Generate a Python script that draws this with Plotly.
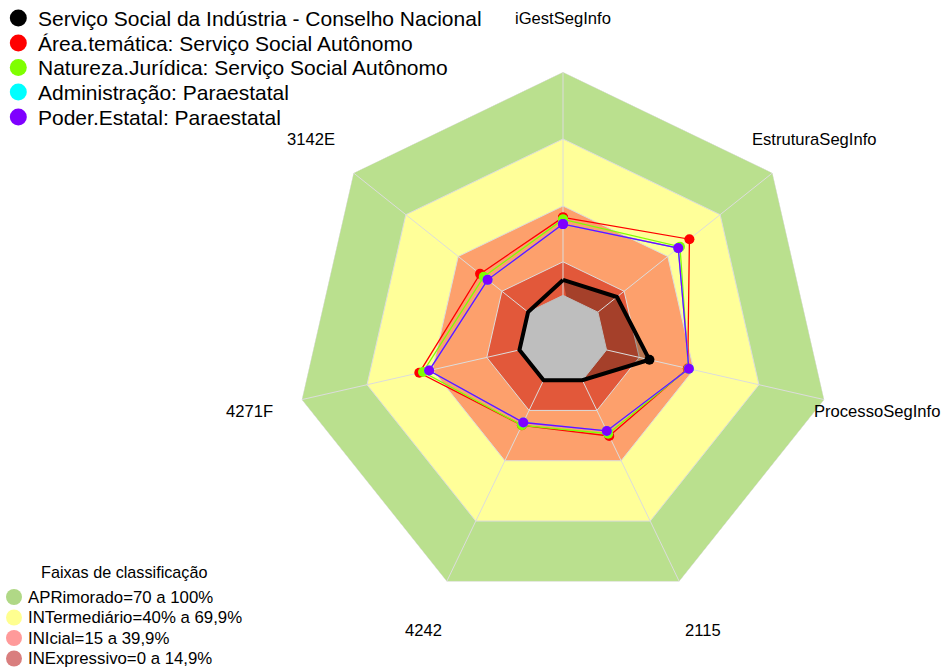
import math
import plotly.graph_objects as go

# ---------------- data ----------------
categories = ["iGestSegInfo", "EstruturaSegInfo", "ProcessoSegInfo", "2115", "4242", "4271F", "3142E"]

orgao = [6.9, 10.9, 19.7, 0, 0, 0, 0]
area_tematica = [34.9, 52.4, 37.3, 27.7, 22.4, 46.0, 27.5]
natureza_juridica = [34.0, 47.0, 37.6, 26.6, 22.4, 44.3, 25.4]
administracao = [31.9, 46.0, 37.8, 25.2, 21.0, 41.5, 23.2]
poder_estatal = [31.9, 46.0, 37.8, 25.2, 21.0, 41.5, 23.2]

series_names = [
    "Serviço Social da Indústria - Conselho Nacional",
    "Área.temática: Serviço Social Autônomo",
    "Natureza.Jurídica: Serviço Social Autônomo",
    "Administração: Paraestatal",
    "Poder.Estatal: Paraestatal",
]
series_values = [orgao, area_tematica, natureza_juridica, administracao, poder_estatal]
series_colors = ["#000000", "#FF0000", "#7FFF00", "#00FFFF", "#7F00FF"]

band_labels = ["APRimorado=70 a 100%", "INTermediário=40% a 69,9%", "INIcial=15 a 39,9%", "INExpressivo=0 a 14,9%"]
band_upper = [100, 70, 40, 15]
band_fill = ["#BAE08E", "#FFFF99", "#FDA06C", "#E2583A"]
band_legend_color = ["#B0D886", "#FFFF90", "#FF9A9A", "#D97E7E"]
legend_title = "Faixas de classificação"
radial_min = -20
center_color = "#BEBEBE"

FONT = "Liberation Sans, Arial, sans-serif"
W, H = 944, 668
cx_px, cy_px, R_px = 563, 340, 268

fig = go.Figure()

closed = categories + [categories[0]]

# bands
for up, col in zip(band_upper, band_fill):
    fig.add_trace(go.Scatterpolar(
        r=[up] * len(closed), theta=closed, mode="lines", fill="toself",
        fillcolor=col, line=dict(color="#DCDCDC", width=1),
        showlegend=False, hoverinfo="skip"))

# shaded fill of the first series (partial polygon)
part = orgao[:4] + [orgao[0]]
part_theta = categories[:4] + [categories[0]]
fig.add_trace(go.Scatterpolar(
    r=part, theta=part_theta, mode="none", fill="toself",
    fillcolor="rgba(0,0,0,0.27)", showlegend=False, hoverinfo="skip"))

# spokes
sr, st = [], []
for c in categories:
    sr += [0, 100, None]
    st += [c, c, None]
fig.add_trace(go.Scatterpolar(r=sr, theta=st, mode="lines",
                              line=dict(color="#DCDCDC", width=1),
                              showlegend=False, hoverinfo="skip"))

# grey centre
fig.add_trace(go.Scatterpolar(
    r=[0] * len(closed), theta=closed, mode="lines", fill="toself",
    fillcolor=center_color, line=dict(color=center_color, width=1),
    showlegend=False, hoverinfo="skip"))

# series
for name, vals, col in zip(series_names, series_values, series_colors):
    is_main = col == "#000000"
    fig.add_trace(go.Scatterpolar(
        r=vals + [vals[0]], theta=closed, mode="lines+markers",
        line=dict(color=col, width=4 if is_main else 1.3),
        marker=dict(color=col, size=10),
        name=name, showlegend=False))

# ---------- legends, drawn on a hidden pixel-scaled cartesian overlay ----------
leg1_y = [18, 43, 67.5, 92, 117]
leg2_y = [597, 617.5, 638, 658.5]

fig.add_trace(go.Scatter(x=[18.3] * len(series_names), y=leg1_y, mode="markers",
                         marker=dict(color=series_colors, size=17),
                         showlegend=False, hoverinfo="skip", xaxis="x", yaxis="y"))
fig.add_trace(go.Scatter(x=[14] * len(band_labels), y=leg2_y, mode="markers",
                         marker=dict(color=band_legend_color, size=16),
                         showlegend=False, hoverinfo="skip", xaxis="x", yaxis="y"))
for name, y in zip(series_names, leg1_y):
    fig.add_annotation(x=36, y=y, xref="x", yref="y", text=name, showarrow=False,
                       xanchor="left", yanchor="middle",
                       font=dict(family=FONT, size=21, color="black"))
for lab, y in zip(band_labels, leg2_y):
    fig.add_annotation(x=26, y=y, xref="x", yref="y", text=lab, showarrow=False,
                       xanchor="left", yanchor="middle",
                       font=dict(family=FONT, size=16.8, color="black"))
fig.add_annotation(x=124, y=572, xref="x", yref="y", text=legend_title, showarrow=False,
                   xanchor="center", yanchor="middle",
                   font=dict(family=FONT, size=16.2, color="black"))

# axis labels
n = len(categories)
for i, c in enumerate(categories):
    ang = 2 * math.pi * i / n
    x = (cx_px + 322 * math.sin(ang)) / W
    y = (H - cy_px + 322 * math.cos(ang)) / H
    fig.add_annotation(x=x, y=y, xref="paper", yref="paper", text=c,
                       showarrow=False, xanchor="center", yanchor="middle",
                       font=dict(family=FONT, size=16.6, color="black"))

fig.update_layout(
    width=W, height=H,
    margin=dict(l=0, r=0, t=0, b=0, autoexpand=False),
    paper_bgcolor="white", plot_bgcolor="rgba(0,0,0,0)",
    font=dict(family=FONT, color="black"),
    showlegend=False,
    xaxis=dict(range=[0, W], visible=False, domain=[0, 1], fixedrange=True),
    yaxis=dict(range=[H, 0], visible=False, domain=[0, 1], fixedrange=True),
    polar=dict(
        domain=dict(x=[(cx_px - R_px) / W, (cx_px + R_px) / W],
                    y=[(H - cy_px - R_px) / H, (H - cy_px + R_px) / H]),
        bgcolor="rgba(0,0,0,0)",
        gridshape="linear",
        radialaxis=dict(range=[radial_min, 100], visible=False),
        angularaxis=dict(rotation=90, direction="clockwise", showgrid=False,
                         showticklabels=False, showline=False, ticks="",
                         categoryorder="array", categoryarray=categories),
    ),
)

fig.write_html("out.html", config={"displayModeBar": False},
               post_script="document.body.style.margin='0';document.body.style.overflow='hidden';")
